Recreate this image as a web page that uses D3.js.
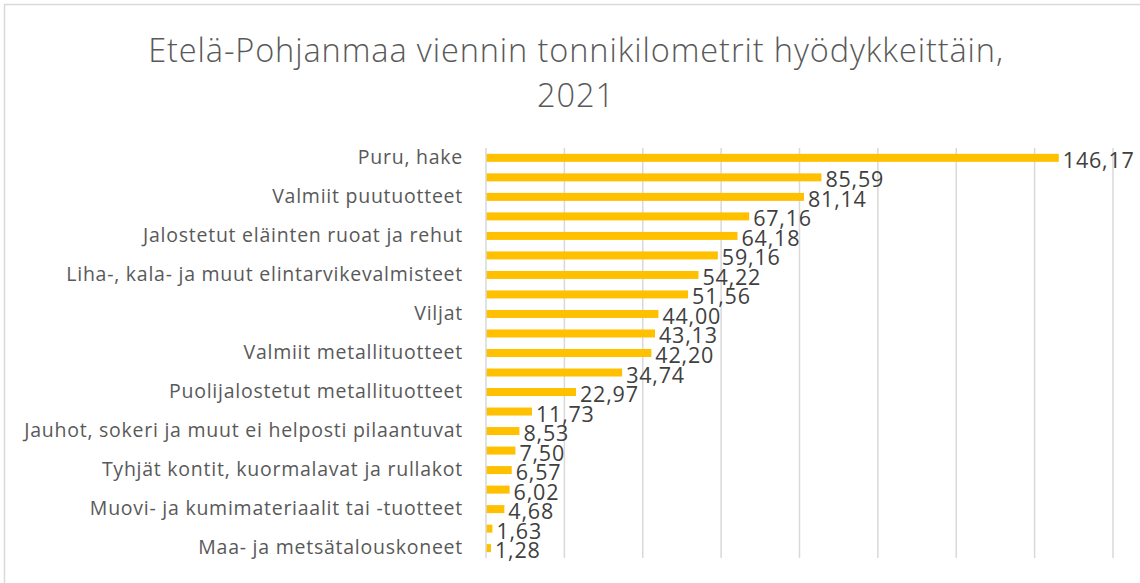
<!DOCTYPE html>
<html>
<head>
<meta charset="utf-8">
<script src="https://cdn.jsdelivr.net/npm/d3@7"></script>
<style>
html, body { margin: 0; padding: 0; background: #fff; }
svg { display: block; }
</style>
</head>
<body>
<svg id="chart" width="1140" height="583"></svg>
<script>
const titleLines = ["Etelä-Pohjanmaa viennin tonnikilometrit hyödykkeittäin,", "2021"];
// Category names: only every other label is shown in the reference (the rest are not readable)
const categories = [
  "Puru, hake", "",
  "Valmiit puutuotteet", "",
  "Jalostetut eläinten ruoat ja rehut", "",
  "Liha-, kala- ja muut elintarvikevalmisteet", "",
  "Viljat", "",
  "Valmiit metallituotteet", "",
  "Puolijalostetut metallituotteet", "",
  "Jauhot, sokeri ja muut ei helposti pilaantuvat", "",
  "Tyhjät kontit, kuormalavat ja rullakot", "",
  "Muovi- ja kumimateriaalit tai -tuotteet", "",
  "Maa- ja metsätalouskoneet"
];
const values = [146.17, 85.59, 81.14, 67.16, 64.18, 59.16, 54.22, 51.56, 44.00, 43.13,
  42.20, 34.74, 22.97, 11.73, 8.53, 7.50, 6.57, 6.02, 4.68, 1.63, 1.28];
const gridTicks = [0, 20, 40, 60, 80, 100, 120, 140, 160];

const svg = d3.select("#chart");
const W = 1140, H = 583;
const plot = { left: 486, right: 1113, top: 148, bottom: 558 };

// chart border
svg.append("rect").attr("x", 4.5).attr("y", 4.5).attr("width", W + 10).attr("height", H + 10)
  .attr("fill", "#fff").attr("stroke", "#d9d9d9").attr("stroke-width", 1.5);

const idx = d3.range(values.length);
const x = d3.scaleLinear().domain([0, 160]).range([plot.left, plot.right]);
const y = d3.scaleBand().domain(idx).range([plot.top, plot.bottom]).paddingInner(0.59).paddingOuter(0.3);

// gridlines
svg.append("g").selectAll("line").data(gridTicks.slice(1)).join("line")
  .attr("x1", d => x(d)).attr("x2", d => x(d))
  .attr("y1", plot.top).attr("y2", plot.bottom)
  .attr("stroke", "#d9d9d9").attr("stroke-width", 1.5);

// bars
svg.append("g").selectAll("rect").data(values).join("rect")
  .attr("x", x(0)).attr("y", (d, i) => y(i))
  .attr("width", d => x(d) - x(0)).attr("height", y.bandwidth())
  .attr("fill", "#ffc000");

// vertical axis line
svg.append("line").attr("x1", x(0)).attr("x2", x(0)).attr("y1", plot.top).attr("y2", plot.bottom)
  .attr("stroke", "#d9d9d9").attr("stroke-width", 1.5);

// category labels
const yAxis = d3.axisLeft(y).tickSize(0).tickPadding(23).tickFormat(i => categories[i]);
const ga = svg.append("g").attr("transform", `translate(${x(0)},0)`).call(yAxis);
ga.select(".domain").remove();
ga.selectAll("text").attr("font-family", "Open Sans, sans-serif").attr("font-size", 19.5)
  .attr("letter-spacing", 0.75)
  .attr("fill", "#595959");

// data labels
const fmt = v => d3.format(".2f")(v).replace(".", ",");
svg.append("g").selectAll("text").data(values).join("text")
  .attr("x", d => x(d) + 4)
  .attr("y", (d, i) => y(i) + y.bandwidth() / 2 + 10)
  .attr("font-family", "Open Sans, sans-serif").attr("font-size", 21.5)
  .attr("letter-spacing", 0.8)
  .attr("fill", "#404040")
  .text(fmt);

// title
svg.append("g").selectAll("text").data(titleLines).join("text")
  .attr("x", 576).attr("y", (d, i) => 62 + i * 45)
  .attr("text-anchor", "middle")
  .attr("font-family", "Open Sans, sans-serif").attr("font-weight", 300).attr("font-size", 32.5)
  .attr("letter-spacing", 0.9)
  .attr("fill", "#595959")
  .text(d => d);
</script>
</body>
</html>
